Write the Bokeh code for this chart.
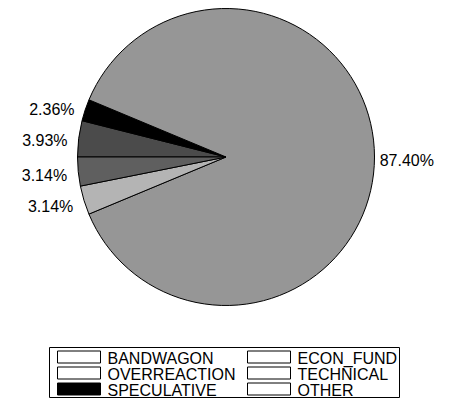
import math
from bokeh.plotting import figure
from bokeh.models import Range1d
from bokeh.core.properties import value
from bokeh.embed import file_html
from bokeh.resources import INLINE

# Data
categories = ["BANDWAGON", "OVERREACTION", "SPECULATIVE", "ECON_FUND", "TECHNICAL", "OTHER"]
percents = [3.93, 0.0, 2.36, 87.40, 3.14, 3.14]
labels = ["3.93%", "", "2.36%", "87.40%", "3.14%", "3.14%"]

# Styles
slice_colors = ["#4b4b4b", "#7f7f7f", "#000000", "#969696", "#b4b4b4", "#5f5f5f"]
legend_fills = ["#ffffff", "#ffffff", "#000000", "#ffffff", "#ffffff", "#ffffff"]

W, H = 438, 398
FONT = "Liberation Sans"


def Y(y_img):
    return 414 - y_img


p = figure(width=W, height=H, output_backend="svg", toolbar_location=None,
           x_range=Range1d(0, W), y_range=Range1d(414 - H, 414),
           min_border=0)
p.axis.visible = False
p.grid.visible = False
p.outline_line_color = None
p.background_fill_color = "white"

cx, cy, R = 225.5, Y(156.5), 148.5
total = sum(percents)
cum = 0.0
starts, ends, xs, ys, aligns, txts, cols = [], [], [], [], [], [], []
for v, lab, c in zip(percents, labels, slice_colors):
    a0 = math.pi - cum / total * 2 * math.pi
    cum += v
    a1 = math.pi - cum / total * 2 * math.pi
    if v > 0:
        starts.append(a0)
        ends.append(a1)
        cols.append(c)
        mid = (a0 + a1) / 2
        left_side = math.cos(mid) < 0
        rr = R * (1.075 if left_side else 1.035)
        xs.append(cx + rr * math.cos(mid))
        ys.append(cy + rr * math.sin(mid))
        aligns.append("right" if left_side else "left")
        txts.append(lab)

p.wedge(x=cx, y=cy, radius=R, start_angle=starts, end_angle=ends, direction="clock",
        fill_color=cols, line_color="black", line_width=1)

for x, y, t, al in zip(xs, ys, txts, aligns):
    p.text(x=[x], y=[y], text=[t], text_align=al, text_baseline="middle", y_offset=3,
           text_font=value(FONT), text_font_size="16px", text_color="#000000")

# Legend
lx0, lx1, ly0, ly1 = 49, 399, 347, 397
p.quad(left=lx0, right=lx1, top=Y(ly0), bottom=Y(ly1), fill_color=None, line_color="black", line_width=1)
col_x = [57, 247]
row_y = [356.5, 372.5, 388.5]
sw_w, sw_h = 43, 12
for i, (name, fc) in enumerate(zip(categories, legend_fills)):
    col = i // 3
    row = i % 3
    x0 = col_x[col]
    yc = row_y[row]
    p.quad(left=x0, right=x0 + sw_w, top=Y(yc - sw_h / 2), bottom=Y(yc + sw_h / 2),
           fill_color=fc, line_color="black", line_width=1)
    p.text(x=[x0 + sw_w + 7], y=[Y(yc)], text=[name], text_align="left", text_baseline="middle",
           y_offset=1, text_font=value(FONT), text_font_size="16px", text_color="#000000")

open("out.html", "w").write(file_html(p, INLINE))
